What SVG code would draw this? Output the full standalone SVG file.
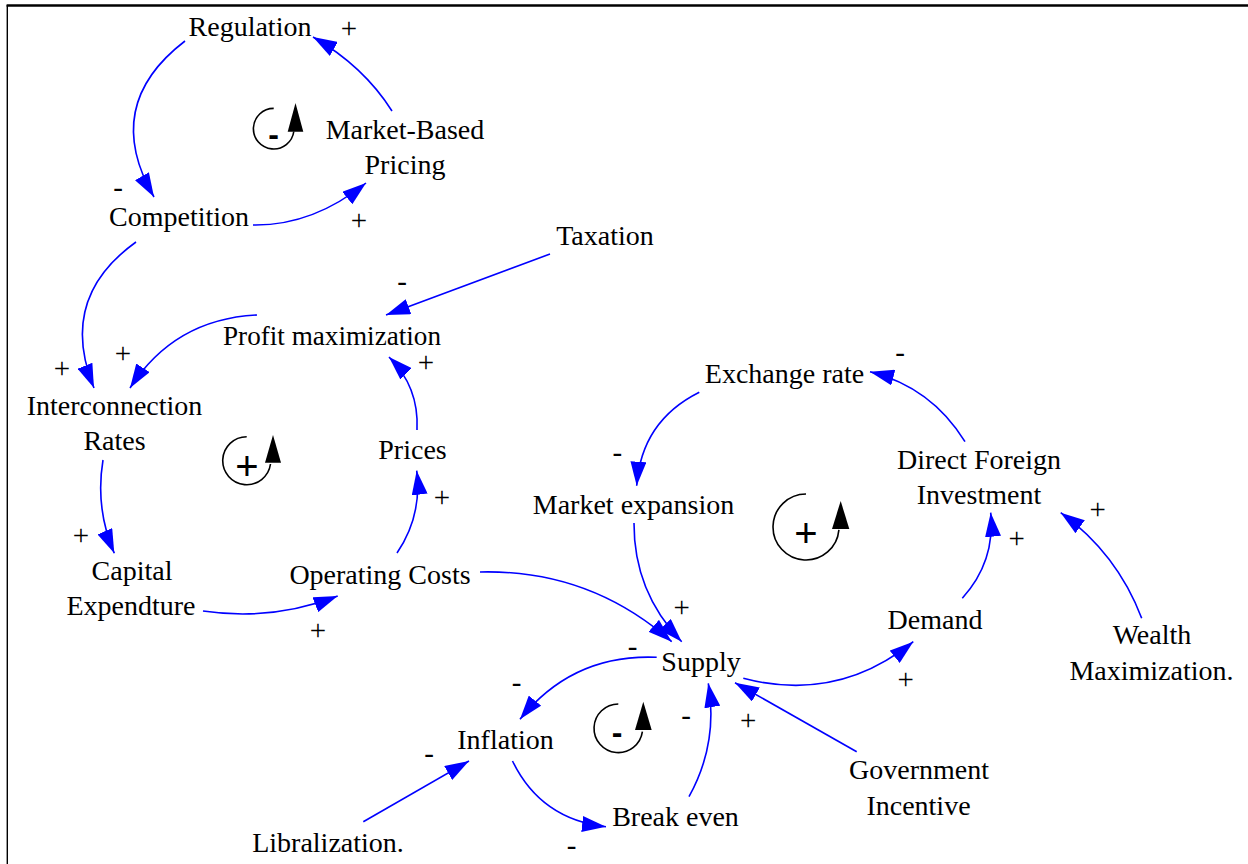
<svg xmlns="http://www.w3.org/2000/svg" width="1248" height="864" viewBox="0 0 1248 864">
<style>
.n{font-family:"Liberation Serif","Times New Roman",serif;font-size:28px;fill:#000;text-anchor:middle}
.s{font-family:"Liberation Serif","Times New Roman",serif;font-size:29px;fill:#000;text-anchor:middle}
.c{fill:none;stroke:#0000ff;stroke-width:1.6;marker-end:url(#ah)}
.loop{fill:none;stroke:#000;stroke-width:1.6}
.lh{fill:#000}
.lp{font-family:"Liberation Sans",Arial,sans-serif;font-size:40px;fill:#000;text-anchor:middle}
.lm{font-family:"Liberation Sans",Arial,sans-serif;font-size:32px;font-weight:bold;fill:#000;text-anchor:middle}
</style>
<defs>
<marker id="ah" markerUnits="userSpaceOnUse" viewBox="0 0 24 16" markerWidth="24" markerHeight="16" refX="24" refY="8" orient="auto">
<path d="M0,0 L24,8 L0,16 z" fill="#0000ff"/>
</marker>
</defs>
<rect width="1248" height="864" fill="#fff"/>
<g id="frame" stroke="#000" fill="none">
<line x1="7.3" y1="5" x2="7.3" y2="864" stroke-width="1.4"/>
<line x1="6.6" y1="5.5" x2="1248" y2="5.5" stroke-width="2.3"/>
</g>
<g id="connectors">
<path class="c" d="M392,111 Q363.5,66 313,37"/>
<path class="c" d="M185,41 Q100.9,105.4 154,197"/>
<path class="c" d="M253,225 Q312.5,226 366,183"/>
<path class="c" d="M136,242 Q57.4,298.4 94,388"/>
<path class="c" d="M550,254 L386,315"/>
<path class="c" d="M257,315 Q174.5,319 130,388"/>
<path class="c" d="M417,430 Q419.3,387 389,357"/>
<path class="c" d="M103,460 Q95,508.3 114.3,553.3"/>
<path class="c" d="M203,611 Q272.2,621.3 337.7,596"/>
<path class="c" d="M397,553 Q422.3,515.8 416.7,470.7"/>
<path class="c" d="M480,572 Q589.5,569.3 671.7,641.7"/>
<path class="c" d="M634,523 Q633.7,592 681.7,641.7"/>
<path class="c" d="M656.7,657.3 Q572.7,653.7 520,719.3"/>
<path class="c" d="M512.5,761 Q540.8,819.4 606,826.7"/>
<path class="c" d="M689,796.7 Q718.5,743.4 708.3,683.3"/>
<path class="c" d="M856.7,751.7 L735,682.7"/>
<path class="c" d="M363.3,821.7 L469,761"/>
<path class="c" d="M743.3,678.3 Q837.5,703 913.3,641.7"/>
<path class="c" d="M962.3,598.3 Q995.5,561.7 990.7,512.7"/>
<path class="c" d="M1141.7,618.3 Q1117,553.3 1060.7,512.7"/>
<path class="c" d="M965,441.7 Q931.7,387.3 870,371.7"/>
<path class="c" d="M699.3,392.3 Q641.4,421.2 636.7,485.7"/>
</g>
<g id="polarities">
<text class="s" x="349" y="37.5">+</text>
<text class="s" x="118" y="196.5">-</text>
<text class="s" x="359" y="229.5">+</text>
<text class="s" x="62" y="378">+</text>
<text class="s" x="123" y="362.5">+</text>
<text class="s" x="402" y="290.5">-</text>
<text class="s" x="426" y="371.5">+</text>
<text class="s" x="81" y="544.5">+</text>
<text class="s" x="318" y="639.5">+</text>
<text class="s" x="442" y="507">+</text>
<text class="s" x="632.7" y="655.5">-</text>
<text class="s" x="681.7" y="616.5">+</text>
<text class="s" x="516.7" y="692">-</text>
<text class="s" x="571.7" y="854.5">-</text>
<text class="s" x="686" y="724.5">-</text>
<text class="s" x="748.3" y="729.5">+</text>
<text class="s" x="429" y="762.5">-</text>
<text class="s" x="905.7" y="688.5">+</text>
<text class="s" x="1016.7" y="548">+</text>
<text class="s" x="1097.7" y="518.5">+</text>
<text class="s" x="900" y="362">-</text>
<text class="s" x="617.3" y="462">-</text>
</g>
<g id="loop-B1">
<path class="loop" d="M273.7,108.4 A20.3,20.3 0 1 0 293.8,131.5"/>
<polygon class="lh" points="287.7,131.7 303.3,131.7 295.5,103"/>
<text class="lm" x="273.5" y="145">-</text>
</g>
<g id="loop-R1">
<path class="loop" d="M246.7,436.7 A24,24 0 1 0 270.5,464"/>
<polygon class="lh" points="265,462.7 281,462.7 273,435"/>
<text class="lp" x="247" y="480">+</text>
</g>
<g id="loop-R2">
<path class="loop" d="M806,494 A33,33 0 1 0 838.9,529.9"/>
<polygon class="lh" points="832,529 849.3,529 840.7,501"/>
<text class="lp" x="806" y="547">+</text>
</g>
<g id="loop-B2">
<path class="loop" d="M618.3,704 A24.3,24.3 0 1 0 642.4,731.7"/>
<polygon class="lh" points="635,730 651.7,730 643.3,701.7"/>
<text class="lm" x="617" y="742.5">-</text>
</g>
<g id="regulation"><text class="n" x="250" y="36">Regulation</text></g>
<g id="market-based-pricing"><text class="n" x="405" y="138.5">Market-Based</text><text class="n" x="405" y="173.5">Pricing</text></g>
<g id="competition"><text class="n" x="179" y="225.5">Competition</text></g>
<g id="taxation"><text class="n" x="605" y="245">Taxation</text></g>
<g id="profit-maximization"><text class="n" x="332" y="344.5" textLength="218" lengthAdjust="spacingAndGlyphs">Profit maximization</text></g>
<g id="interconnection-rates"><text class="n" x="114.5" y="414.5">Interconnection</text><text class="n" x="114.5" y="450">Rates</text></g>
<g id="prices"><text class="n" x="412.5" y="458.5">Prices</text></g>
<g id="capital-expendture"><text class="n" x="132" y="579.5">Capital</text><text class="n" x="131" y="615">Expendture</text></g>
<g id="operating-costs"><text class="n" x="380" y="584">Operating Costs</text></g>
<g id="exchange-rate"><text class="n" x="784.5" y="383">Exchange rate</text></g>
<g id="direct-foreign-investment"><text class="n" x="979" y="468.5">Direct Foreign</text><text class="n" x="979" y="503.5">Investment</text></g>
<g id="market-expansion"><text class="n" x="633.5" y="513.5">Market expansion</text></g>
<g id="demand"><text class="n" x="935" y="628.5">Demand</text></g>
<g id="supply"><text class="n" x="701" y="670.5">Supply</text></g>
<g id="wealth-maximization"><text class="n" x="1152" y="644">Wealth</text><text class="n" x="1151.5" y="680">Maximization.</text></g>
<g id="inflation"><text class="n" x="505.5" y="749">Inflation</text></g>
<g id="government-incentive"><text class="n" x="919" y="778.5">Government</text><text class="n" x="918.5" y="815">Incentive</text></g>
<g id="break-even"><text class="n" x="675.5" y="826">Break even</text></g>
<g id="libralization"><text class="n" x="328" y="852">Libralization.</text></g>
</svg>
